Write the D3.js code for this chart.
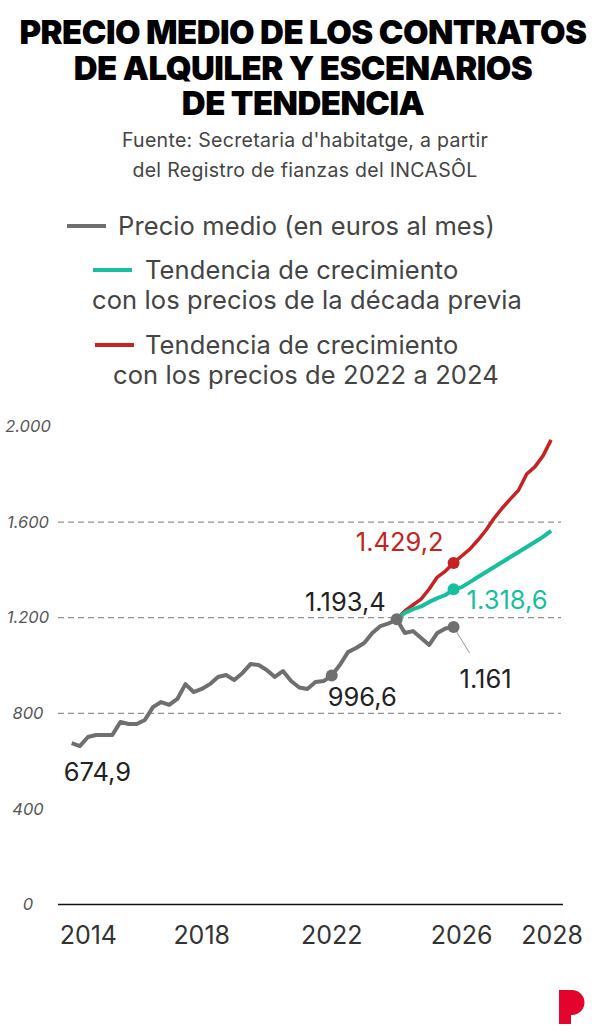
<!DOCTYPE html>
<html lang="es">
<head>
<meta charset="utf-8" />
<title>Precio medio de los contratos de alquiler</title>
<script src="https://cdn.jsdelivr.net/npm/d3@7"></script>
<style>
  body { margin: 0; background: #fff; }
  svg { display: block; font-family: Inter, "Noto Sans", sans-serif; }
</style>
</head>
<body>
<div id="chart"></div>
<script>
// quarterly values, first one is 2014 Q1
var startYear = 2014;
var precioMedio = [674.9, 663, 701, 709, 709, 709, 764, 755, 755, 772,
  826, 847, 835, 860, 922, 889, 902, 922, 952, 960,
  939, 968, 1006, 1002, 981, 952, 977, 935, 908, 902,
  931, 935, 958, 1002, 1056, 1073, 1094, 1136, 1165, 1176,
  1193.4, 1136, 1144, 1115, 1086, 1136, 1155, 1161];
// scenarios start at 2024 Q1 (index 40)
var scenStart = 40;
var tendDecada = [1193.4, 1220, 1236, 1247, 1266, 1282, 1295, 1318.6, 1328, 1349,
  1370, 1391, 1412, 1433, 1454, 1475, 1496, 1517, 1538, 1563];
var tend2224 = [1193.4, 1228, 1253, 1278, 1320, 1370, 1395, 1429.2, 1458, 1487,
  1525, 1567, 1617, 1659, 1697, 1734, 1801, 1831, 1877, 1944];

var yTicks = [0, 400, 800, 1200, 1600, 2000];
var gridTicks = [800, 1200, 1600];
var yearTicks = [2014, 2018, 2022, 2026, 2028];

var grey = "#6f6f6f", teal = "#17bf9f", red = "#c62222";

var W = 600, H = 1035;
var svg = d3.select("#chart").append("svg").attr("width", W).attr("height", H);

var x = d3.scaleLinear().domain([2014, 2028.75]).range([71.7, 551.1]);
var y = d3.scaleLinear().domain([0, 2000]).range([904.5, 426.5]);
var fmt = d3.formatLocale({decimal: ",", thousands: ".", grouping: [3], currency: ["", "€"]});
var fmtY = fmt.format(",");

function toPts(arr, offset) {
  return arr.map(function(v, i) { return {t: startYear + (i + offset) / 4, v: v}; });
}
var greyPts = toPts(precioMedio, 0),
    tealPts = toPts(tendDecada, scenStart),
    redPts = toPts(tend2224, scenStart);

// title (one text, three lines)
var title = ["PRECIO MEDIO DE LOS CONTRATOS", "DE ALQUILER Y ESCENARIOS", "DE TENDENCIA"];
svg.append("text")
  .attr("text-anchor", "middle")
  .style("font-size", "33px").style("font-weight", 900).style("letter-spacing", "-0.55px")
  .style("fill", "#000")
  .selectAll("tspan").data(title).enter().append("tspan")
  .attr("x", 303).attr("y", function(d, i) { return 44 + i * 35.5; })
  .text(function(d) { return d; });

var sub = ["Fuente: Secretaria d'habitatge, a partir", "del Registro de fianzas del INCASÔL"];
svg.append("g").selectAll("text").data(sub).enter().append("text")
  .attr("x", 305).attr("y", function(d, i) { return 147 + i * 29.5; })
  .attr("text-anchor", "middle")
  .style("font-size", "19.5px").style("letter-spacing", "0.3px").style("fill", "#444")
  .text(function(d) { return d; });

// legend
var legend = [
  {c: grey, lx: 67, ly: 226, lines: [[118, 235, "Precio medio (en euros al mes)"]]},
  {c: teal, lx: 93, ly: 270, lines: [[145, 279, "Tendencia de crecimiento"], [92, 309, "con los precios de la década previa"]]},
  {c: red, lx: 95, ly: 345, lines: [[145, 354, "Tendencia de crecimiento"], [113, 384, "con los precios de 2022 a 2024"]]}
];
var lg = svg.append("g").selectAll("g").data(legend).enter().append("g");
lg.append("line")
  .attr("x1", function(d) { return d.lx; }).attr("x2", function(d) { return d.lx + 39; })
  .attr("y1", function(d) { return d.ly; }).attr("y2", function(d) { return d.ly; })
  .style("stroke", function(d) { return d.c; }).style("stroke-width", 4);
lg.selectAll("text").data(function(d) { return d.lines; }).enter().append("text")
  .attr("x", function(d) { return d[0]; }).attr("y", function(d) { return d[1]; })
  .style("font-size", "25.5px").style("letter-spacing", "0.1px").style("fill", "#444")
  .text(function(d) { return d[2]; });

// y axis labels + grid
svg.append("g").selectAll("text").data(yTicks).enter().append("text")
  .attr("x", 28).attr("y", function(d) { return y(d); }).attr("dy", "0.35em")
  .attr("text-anchor", "middle")
  .style("font-size", "16.5px").style("font-style", "italic").style("fill", "#555")
  .text(function(d) { return fmtY(d); });

svg.append("g").selectAll("line").data(gridTicks).enter().append("line")
  .attr("x1", 58).attr("x2", 561)
  .attr("y1", function(d) { return y(d); }).attr("y2", function(d) { return y(d); })
  .style("stroke", "#777").style("stroke-width", 1).style("stroke-dasharray", "6,4");

svg.append("line").attr("x1", 58).attr("x2", 563).attr("y1", y(0)).attr("y2", y(0))
  .style("stroke", "#111").style("stroke-width", 1.5);

// year labels, first and last pushed to the edges
svg.append("g").selectAll("text").data(yearTicks).enter().append("text")
  .attr("x", function(d, i) {
    if (i === 0) return x(d) - 12;
    if (i === yearTicks.length - 1) return 583;
    return x(d);
  })
  .attr("y", 944)
  .attr("text-anchor", function(d, i) { return i === 0 ? "start" : (i === yearTicks.length - 1 ? "end" : "middle"); })
  .style("font-size", "25px").style("fill", "#333")
  .text(function(d) { return d; });

// lines
var line = d3.line().x(function(d) { return x(d.t); }).y(function(d) { return y(d.v); });
[[redPts, red, 3.5], [tealPts, teal, 4], [greyPts, grey, 4]].forEach(function(s) {
  svg.append("path").datum(s[0]).attr("d", line)
    .style("fill", "none").style("stroke", s[1]).style("stroke-width", s[2])
    .style("stroke-linejoin", "round");
});

// highlighted points
var marks = [
  {p: greyPts[32], c: grey, label: "996,6", tc: "#222", dx: -4, dy: 30, anchor: "start"},
  {p: greyPts[40], c: grey, label: "1.193,4", tc: "#222", dx: -11, dy: -8, anchor: "end"},
  {p: greyPts[47], c: grey, label: "1.161", tc: "#222", dx: 32, dy: 61, anchor: "middle"},
  {p: redPts[7], c: red, label: "1.429,2", tc: red, dx: -10, dy: -12, anchor: "end"},
  {p: tealPts[7], c: teal, label: "1.318,6", tc: teal, dx: 13, dy: 20, anchor: "start"}
];
// connector for 1.161
svg.append("line")
  .attr("x1", x(greyPts[47].t)).attr("y1", y(greyPts[47].v))
  .attr("x2", x(greyPts[47].t) + 16).attr("y2", y(greyPts[47].v) + 26)
  .style("stroke", "#999").style("stroke-width", 1);

svg.append("g").selectAll("circle").data(marks).enter().append("circle")
  .attr("cx", function(d) { return x(d.p.t); }).attr("cy", function(d) { return y(d.p.v); })
  .attr("r", 6).style("fill", function(d) { return d.c; });

svg.append("g").selectAll("text").data(marks).enter().append("text")
  .attr("x", function(d) { return x(d.p.t) + d.dx; })
  .attr("y", function(d) { return y(d.p.v) + d.dy; })
  .attr("text-anchor", function(d) { return d.anchor; })
  .style("font-size", "25.5px").style("fill", function(d) { return d.tc; })
  .text(function(d) { return d.label; });

svg.append("text")
  .attr("x", x(greyPts[0].t) - 8).attr("y", y(greyPts[0].v) + 38)
  .style("font-size", "25.5px").style("fill", "#222")
  .text("674,9");

// logo
svg.append("path")
  .attr("d", "M559,990 H572 A12.5,12.5 0 0 1 572,1015 H571 V1024 H559 Z")
  .style("fill", "#e4032c");
</script>
</body>
</html>
